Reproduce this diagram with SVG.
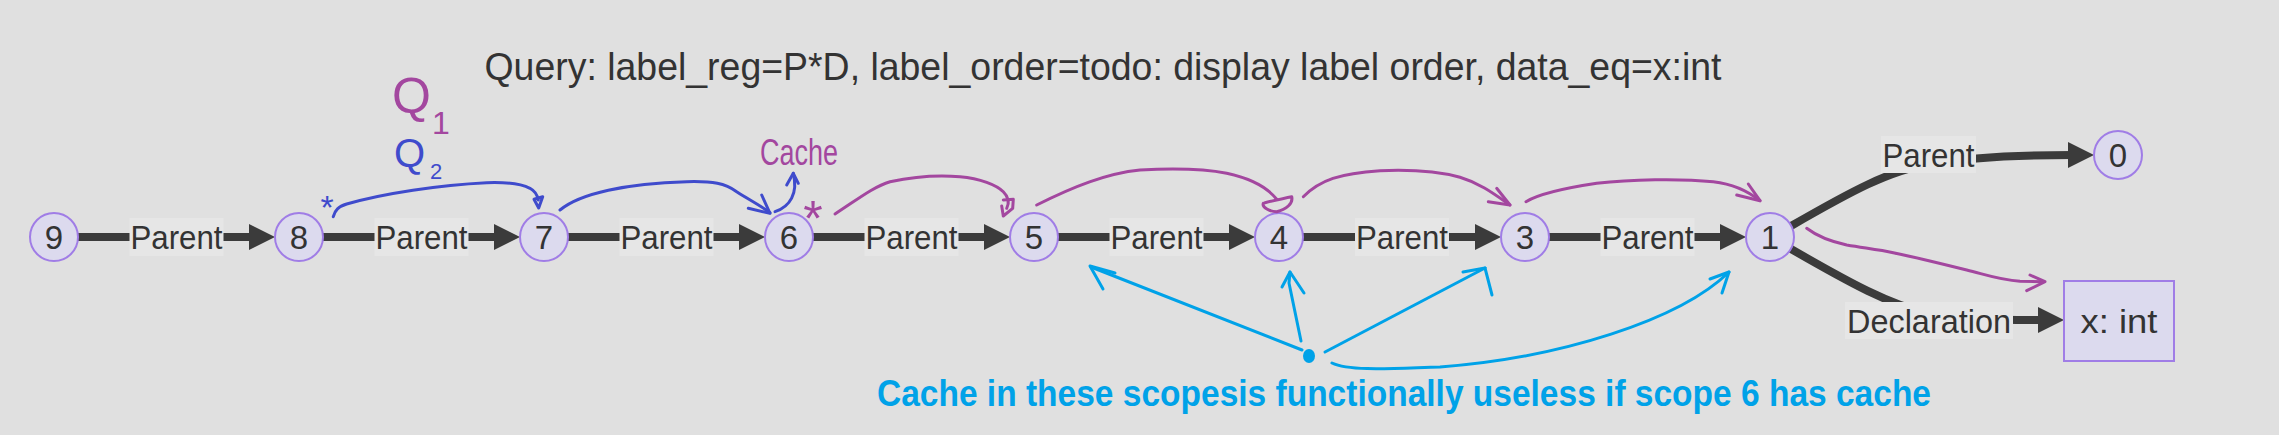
<svg xmlns="http://www.w3.org/2000/svg" width="2279" height="435" viewBox="0 0 2279 435">
<defs>
<style>
.bg{fill:#e0e0e0}
.node circle,.node rect{fill:#dcdaee;stroke:#a07de6;stroke-width:2}
.node text{font-family:"Liberation Sans",Arial,sans-serif;font-size:33px;fill:#333;text-anchor:middle}
.edge{fill:none;stroke:#3b3b3b;stroke-width:8}
.elbl rect{fill:#e6e6e6}
.elbl text{font-family:"Liberation Sans",Arial,sans-serif;font-size:34px;fill:#333;text-anchor:middle}
.title{font-family:"Liberation Sans",Arial,sans-serif;font-size:39px;fill:#333;text-anchor:middle}
.pu{fill:none;stroke:#a3479f;stroke-width:3;stroke-linecap:round;stroke-linejoin:round}
.bl{fill:none;stroke:#3f4bcc;stroke-width:3;stroke-linecap:round;stroke-linejoin:round}
.cy{fill:none;stroke:#00a2e8;stroke-width:3;stroke-linecap:round;stroke-linejoin:round}
.hand{font-family:"Liberation Sans",Arial,sans-serif}
.note{font-family:"Liberation Sans",Arial,sans-serif;font-weight:bold;font-size:36px;fill:#00a2e8;text-anchor:middle}
</style>
<marker id="ah" markerUnits="userSpaceOnUse" markerWidth="26" markerHeight="26" refX="4" refY="13" orient="auto" viewBox="0 0 26 26"><path d="M0,0 L26,13 L0,26 z" fill="#3b3b3b"/></marker>
</defs>
<rect class="bg" x="0" y="0" width="2279" height="435"/>
<text class="title" x="1103" y="80" textLength="1237" lengthAdjust="spacingAndGlyphs">Query: label_reg=P*D, label_order=todo: display label order, data_eq=x:int</text>

<g id="connectors">
<path class="edge" d="M78,237 L253,237" marker-end="url(#ah)"/>
<path class="edge" d="M323,237 L498,237" marker-end="url(#ah)"/>
<path class="edge" d="M568,237 L743,237" marker-end="url(#ah)"/>
<path class="edge" d="M813,237 L988,237" marker-end="url(#ah)"/>
<path class="edge" d="M1058,237 L1233,237" marker-end="url(#ah)"/>
<path class="edge" d="M1303,237 L1479,237" marker-end="url(#ah)"/>
<path class="edge" d="M1549,237 L1724,237" marker-end="url(#ah)"/>
<path class="edge" d="M1791,226 C1850,192 1890,170 1930,164 C1965,158 2010,155 2072,155" marker-end="url(#ah)"/>
<path class="edge" d="M1791,249 C1850,283 1890,305 1930,314 C1965,320 2000,320 2042,320" marker-end="url(#ah)"/>
<g class="elbl">
<rect x="129.5" y="218" width="94" height="38"/><text x="176.5" y="249" textLength="92" lengthAdjust="spacingAndGlyphs">Parent</text>
<rect x="374.5" y="218" width="94" height="38"/><text x="421.5" y="249" textLength="92" lengthAdjust="spacingAndGlyphs">Parent</text>
<rect x="619.5" y="218" width="94" height="38"/><text x="666.5" y="249" textLength="92" lengthAdjust="spacingAndGlyphs">Parent</text>
<rect x="864.5" y="218" width="94" height="38"/><text x="911.5" y="249" textLength="92" lengthAdjust="spacingAndGlyphs">Parent</text>
<rect x="1109.5" y="218" width="94" height="38"/><text x="1156.5" y="249" textLength="92" lengthAdjust="spacingAndGlyphs">Parent</text>
<rect x="1355" y="218" width="94" height="38"/><text x="1402" y="249" textLength="92" lengthAdjust="spacingAndGlyphs">Parent</text>
<rect x="1600.5" y="218" width="94" height="38"/><text x="1647.5" y="249" textLength="92" lengthAdjust="spacingAndGlyphs">Parent</text>
<rect x="1881" y="136" width="95" height="37"/><text x="1928.5" y="167" textLength="92" lengthAdjust="spacingAndGlyphs">Parent</text>
<rect x="1845" y="302" width="168" height="37"/><text x="1929" y="333" textLength="164" lengthAdjust="spacingAndGlyphs">Declaration</text>
</g>
</g>

<g id="n9" class="node"><circle cx="54" cy="237" r="24"/><text x="54" y="249">9</text></g>
<g id="n8" class="node"><circle cx="299" cy="237" r="24"/><text x="299" y="249">8</text></g>
<g id="n7" class="node"><circle cx="544" cy="237" r="24"/><text x="544" y="249">7</text></g>
<g id="n6" class="node"><circle cx="789" cy="237" r="24"/><text x="789" y="249">6</text></g>
<g id="n5" class="node"><circle cx="1034" cy="237" r="24"/><text x="1034" y="249">5</text></g>
<g id="n4" class="node"><circle cx="1279" cy="237" r="24"/><text x="1279" y="249">4</text></g>
<g id="n3" class="node"><circle cx="1525" cy="237" r="24"/><text x="1525" y="249">3</text></g>
<g id="n1" class="node"><circle cx="1770" cy="237" r="24"/><text x="1770" y="249">1</text></g>
<g id="n0" class="node"><circle cx="2118" cy="155" r="24"/><text x="2118" y="167">0</text></g>
<g id="nx" class="node"><rect x="2064" y="281" width="110" height="80"/><text x="2119" y="333" font-size="34" textLength="77" lengthAdjust="spacingAndGlyphs">x: int</text></g>

<g id="annotations">
<path class="bl" d="M333.3,216.7 C335,210 338.3,206.7 346.7,204 C383.3,193.3 440,185 486.7,182.7 C506.7,182 520,183.3 530,188.3 C535,191 537.3,195 538.3,200"/>
<path class="bl" d="M534,199.3 L542.7,196.7 L538.7,208 Z"/>
<path class="bl" d="M560,210 C580,193.3 626.7,183.3 686.7,181.7 C713.3,181 725,183.3 736.7,191.7 C746.7,198.3 760,205 770,212.7"/>
<path class="bl" d="M748.3,208.3 L770,213.3 L761.7,195"/>
<path class="bl" d="M775,211.7 C790,206.7 798.3,193.3 793.3,173.3"/>
<path class="bl" d="M786.7,185 L793.3,173.3 L798.3,183.3"/>
<text class="hand" x="327" y="219" font-size="34" fill="#3f4bcc" text-anchor="middle">*</text>
<text class="hand" x="394" y="167" font-size="40" fill="#3f4bcc">Q<tspan x="430" y="179" font-size="22">2</tspan></text>
<text class="hand" x="392" y="113" font-size="50" fill="#a3479f">Q<tspan x="432" y="134" font-size="32">1</tspan></text>
<text class="hand" x="760" y="165" font-size="36" fill="#a3479f" textLength="78" lengthAdjust="spacingAndGlyphs">Cache</text>
<text class="hand" x="813" y="236" font-size="50" fill="#a3479f" text-anchor="middle">*</text>
<path class="pu" d="M835,214 C856.7,200 873.3,186.7 890,181.7 C913.3,176.7 940,175 960,176.7 C980,178.3 996.7,185 1003.3,191.7 C1008.3,196.7 1010,201.7 1006.7,208.3"/>
<path class="pu" d="M1003.3,200 L1013.3,199.3 L1012.7,208.3 L1003.3,216 L1001.7,206"/>
<path class="pu" d="M1036.7,205 C1073.3,186.7 1106.7,173.3 1140,170 C1173.3,168.3 1206.7,169.3 1226.7,173.3 C1250,178.3 1266.7,186.7 1276.7,199.3"/>
<path class="pu" d="M1265,202.7 C1273.3,200.7 1283.3,198.3 1291.7,196.7 C1293.3,203.3 1286.7,209.3 1276.7,211.7 C1270,211.7 1261.7,207.3 1263.3,203.3"/>
<path class="pu" d="M1303.3,196.7 C1320,180 1340,173.3 1380,170.7 C1413.3,169.3 1440,171.7 1460,177.3 C1480,183.3 1493.3,193.3 1510,205"/>
<path class="pu" d="M1488.3,201.7 L1510,205 L1496.7,188.3"/>
<path class="pu" d="M1526,201.7 C1540,193.3 1563.3,188.3 1596.7,183.3 C1630,179.3 1680,178.3 1713.3,181.7 C1733.3,184 1746.7,190 1760,200.7"/>
<path class="pu" d="M1736.7,195 L1760,200.7 L1748.3,184"/>
<path class="pu" d="M1806.7,228.3 C1813.3,233.3 1823.3,240 1846.7,245 C1866.7,248.3 1880,250 1893.3,252.7 C1920,258.3 1940,263.3 1966.7,270 C1986.7,275 2000,280 2020,281.3 L2043.3,281.7"/>
<path class="pu" d="M2030,275 L2045,281.7 L2026.7,290.7"/>
<ellipse cx="1309" cy="356" rx="6" ry="7" fill="#00a2e8"/>
<path class="cy" d="M1302,350 L1091,267"/>
<path class="cy" d="M1115,273 L1090,266 L1103,289"/>
<path class="cy" d="M1301,341 L1289,283 L1290,272"/>
<path class="cy" d="M1282,287 L1290,272 L1304,293"/>
<path class="cy" d="M1325,352 L1485,268"/>
<path class="cy" d="M1463,272 L1485,268 L1492,295"/>
<path class="cy" d="M1332,363 C1350,372 1400,368 1440,367 C1560,358 1680,320 1729,272"/>
<path class="cy" d="M1710,279 L1729,272 L1722,293"/>
<text class="note" x="1404" y="406" textLength="1054" lengthAdjust="spacingAndGlyphs">Cache in these scopesis functionally useless if scope 6 has cache</text>
</g>
</svg>
